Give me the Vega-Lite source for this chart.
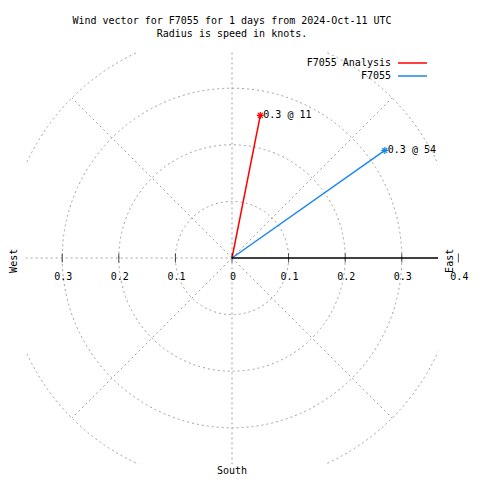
{
  "$schema": "https://vega.github.io/schema/vega-lite/v6.json",
  "width": 412,
  "height": 412,
  "autosize": "none",
  "padding": {"left": 26, "top": 52, "right": 42, "bottom": 16},
  "background": "white",
  "title": {
    "text": ["Wind vector for F7055 for 1 days from 2024-Oct-11 UTC", "Radius is speed in knots."],
    "frame": "group",
    "anchor": "middle",
    "font": "DejaVu Sans Mono",
    "fontSize": 10,
    "fontWeight": "normal",
    "lineHeight": 13,
    "offset": 13,
    "color": "black"
  },
  "config": {"view": {"stroke": null}, "font": "DejaVu Sans Mono"},
  "datasets": {
    "circles": [{"r": 0.1}, {"r": 0.2}, {"r": 0.3}, {"r": 0.4}],
    "spokes": [
      {"x": 0, "y": 0, "x2": 0.2828, "y2": 0.2828},
      {"x": 0, "y": 0, "x2": -0.2828, "y2": 0.2828},
      {"x": 0, "y": 0, "x2": 0.2828, "y2": -0.2828},
      {"x": 0, "y": 0, "x2": -0.2828, "y2": -0.2828},
      {"x": 0, "y": -0.4, "x2": 0, "y2": 0.4},
      {"x": -0.4, "y": 0, "x2": 0, "y2": 0}
    ],
    "vectors": [
      {"series": "F7055 Analysis", "x0": 0, "y0": 0, "x": 0.05, "y": 0.252, "label": "0.3 @ 11"},
      {"series": "F7055", "x0": 0, "y0": 0, "x": 0.27, "y": 0.19, "label": "0.3 @ 54"}
    ],
    "axisline": [{"x": 0, "y": 0, "x2": 0.4, "y2": 0}],
    "ticks": [
      {"x": -0.3, "label": "0.3"},
      {"x": -0.2, "label": "0.2"},
      {"x": -0.1, "label": "0.1"},
      {"x": 0, "label": "0"},
      {"x": 0.1, "label": "0.1"},
      {"x": 0.2, "label": "0.2"},
      {"x": 0.3, "label": "0.3"},
      {"x": 0.4, "label": "0.4"}
    ],
    "compass": [
      {"name": "West", "x": -0.385, "y": -0.005},
      {"name": "East", "x": 0.386, "y": -0.005}
    ],
    "south": [{"name": "South", "x": 0, "y": -0.377}]
  },
  "layer": [
    {
      "data": {"name": "circles"},
      "mark": {"type": "point", "shape": "circle", "filled": false, "color": "#a0a0a0", "strokeWidth": 1, "strokeDash": [2, 3], "clip": true, "opacity": 1},
      "encoding": {
        "x": {"datum": 0, "type": "quantitative", "scale": {"domain": [-0.364, 0.364], "nice": false, "zero": false}, "axis": null},
        "y": {"datum": 0, "type": "quantitative", "scale": {"domain": [-0.364, 0.364], "nice": false, "zero": false}, "axis": null},
        "size": {"field": "r", "type": "quantitative", "scale": {"type": "pow", "exponent": 2, "domain": [0, 0.4], "range": [0, 205030], "zero": true}, "legend": null}
      }
    },
    {
      "data": {"name": "spokes"},
      "mark": {"type": "rule", "color": "#a0a0a0", "strokeWidth": 1, "strokeDash": [2, 3], "clip": true},
      "encoding": {
        "x": {"field": "x", "type": "quantitative", "axis": null},
        "y": {"field": "y", "type": "quantitative", "axis": null},
        "x2": {"field": "x2"},
        "y2": {"field": "y2"}
      }
    },
    {
      "data": {"name": "vectors"},
      "mark": {"type": "rule", "strokeWidth": 1.5},
      "encoding": {
        "x": {"field": "x0", "type": "quantitative", "axis": null},
        "y": {"field": "y0", "type": "quantitative", "axis": null},
        "x2": {"field": "x"},
        "y2": {"field": "y"},
        "color": {
          "field": "series",
          "type": "nominal",
          "scale": {"domain": ["F7055 Analysis", "F7055"], "range": ["#ff0000", "#1c86ee"]},
          "legend": {
            "orient": "none",
            "legendX": 380.5,
            "legendY": 5,
            "title": null,
            "symbolType": "M-2.9,0L2.9,0",
            "symbolSize": 100,
            "symbolStrokeWidth": 1.5,
            "labelAlign": "right",
            "labelOffset": -27.5,
            "labelFont": "DejaVu Sans Mono",
            "labelFontSize": 10,
            "labelColor": "black",
            "rowPadding": 2,
            "padding": 0
          }
        }
      }
    },
    {
      "data": {"name": "vectors"},
      "mark": {"type": "point", "shape": "M-1,0L1,0M0,-1L0,1M-0.7,-0.7L0.7,0.7M-0.7,0.7L0.7,-0.7", "size": 49, "filled": false, "strokeWidth": 1.2, "opacity": 1},
      "encoding": {
        "x": {"field": "x", "type": "quantitative", "axis": null},
        "y": {"field": "y", "type": "quantitative", "axis": null},
        "color": {"field": "series", "type": "nominal", "legend": null}
      }
    },
    {
      "data": {"name": "vectors"},
      "mark": {"type": "text", "align": "left", "baseline": "middle", "dx": 3, "fontSize": 10, "font": "DejaVu Sans Mono", "color": "black"},
      "encoding": {
        "x": {"field": "x", "type": "quantitative", "axis": null},
        "y": {"field": "y", "type": "quantitative", "axis": null},
        "text": {"field": "label"}
      }
    },
    {
      "data": {"name": "axisline"},
      "mark": {"type": "rule", "color": "black", "strokeWidth": 1.5, "clip": true},
      "encoding": {
        "x": {"field": "x", "type": "quantitative", "axis": null},
        "y": {"field": "y", "type": "quantitative", "axis": null},
        "x2": {"field": "x2"},
        "y2": {"field": "y2"}
      }
    },
    {
      "data": {"name": "ticks"},
      "mark": {"type": "tick", "orient": "vertical", "size": 9, "thickness": 1, "color": "black"},
      "encoding": {
        "x": {"field": "x", "type": "quantitative", "axis": null},
        "y": {"datum": 0, "type": "quantitative", "axis": null}
      }
    },
    {
      "data": {"name": "ticks"},
      "mark": {"type": "text", "align": "center", "baseline": "alphabetic", "dx": 1, "dy": 22, "fontSize": 10, "font": "DejaVu Sans Mono", "color": "black"},
      "encoding": {
        "x": {"field": "x", "type": "quantitative", "axis": null},
        "y": {"datum": 0, "type": "quantitative", "axis": null},
        "text": {"field": "label"}
      }
    },
    {
      "data": {"name": "compass"},
      "mark": {"type": "text", "align": "center", "baseline": "middle", "angle": 270, "fontSize": 10, "font": "DejaVu Sans Mono", "color": "black"},
      "encoding": {
        "x": {"field": "x", "type": "quantitative", "axis": null},
        "y": {"field": "y", "type": "quantitative", "axis": null},
        "text": {"field": "name"}
      }
    },
    {
      "data": {"name": "south"},
      "mark": {"type": "text", "align": "center", "baseline": "middle", "fontSize": 10, "font": "DejaVu Sans Mono", "color": "black"},
      "encoding": {
        "x": {"field": "x", "type": "quantitative", "axis": null},
        "y": {"field": "y", "type": "quantitative", "axis": null},
        "text": {"field": "name"}
      }
    }
  ]
}
